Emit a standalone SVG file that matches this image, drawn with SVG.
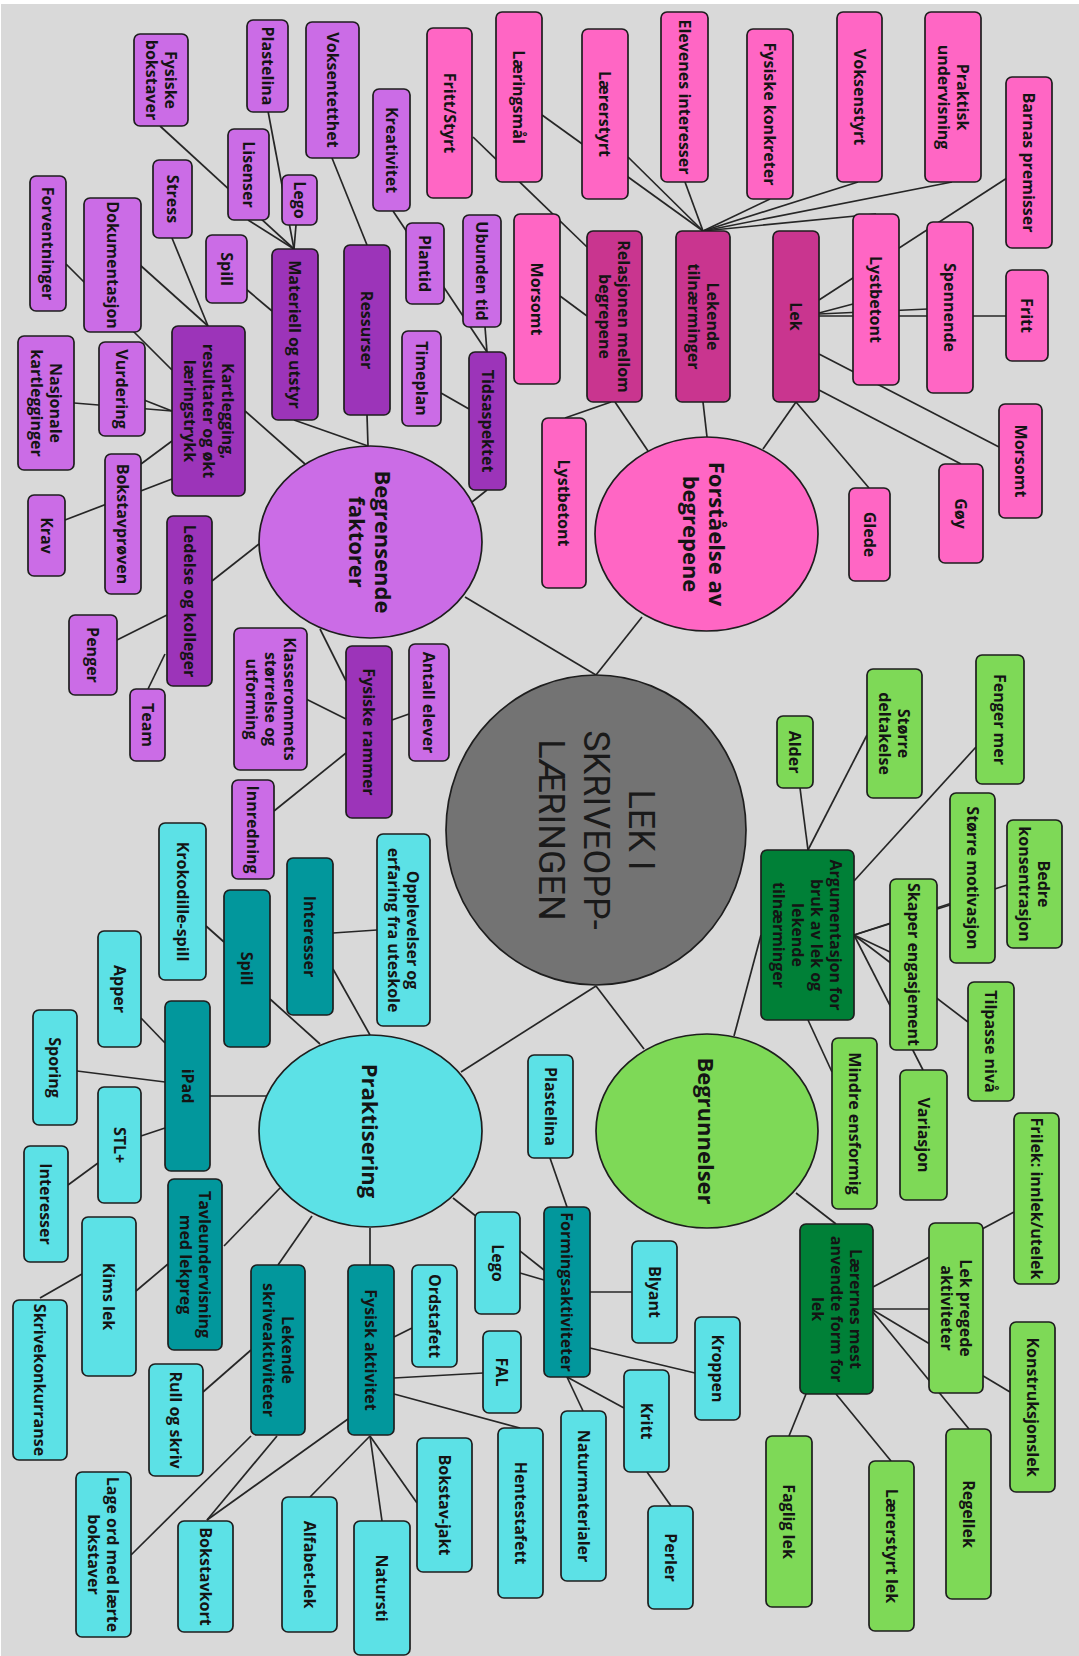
<svg xmlns="http://www.w3.org/2000/svg" width="1079" height="1656" viewBox="0 0 1079 1656">
<style>
.bg{fill:#d9d9d9}
.n rect,.n ellipse{stroke:#1e1e1e;stroke-width:1.7}
.p{fill:#ff66c4}.pd{fill:#c9358f}.v{fill:#cb6ce6}.vd{fill:#9c34b9}
.t{fill:#5ce1e6}.td{fill:#02979c}.g{fill:#7ed957}.gd{fill:#008037}
.n text{font-family:"Open Sans","DejaVu Sans",sans-serif;font-weight:700;font-size:16px;fill:#141414;text-anchor:middle;dominant-baseline:central}
.n text.big{font-size:22px}
#connectors line{stroke:#262626;stroke-width:1.7}
#center text{font-family:Roboto,"Liberation Sans",sans-serif;font-weight:400;font-size:36px;fill:#1a1a1a;text-anchor:middle;dominant-baseline:central}
</style>
<rect x="0" y="0" width="1079" height="1656" fill="#ffffff"/>
<rect class="bg" x="1" y="4" width="1078" height="1652"/>
<g id="connectors">
<line x1="542" y1="115" x2="703" y2="231"/>
<line x1="628" y1="157" x2="703" y2="231"/>
<line x1="685" y1="182" x2="703" y2="231"/>
<line x1="770" y1="199" x2="703" y2="231"/>
<line x1="858" y1="182" x2="703" y2="231"/>
<line x1="952" y1="182" x2="703" y2="231"/>
<line x1="876" y1="214" x2="703" y2="231"/>
<line x1="473" y1="137" x2="587" y2="247"/>
<line x1="560" y1="296" x2="587" y2="316"/>
<line x1="611" y1="402" x2="565" y2="418"/>
<line x1="615" y1="402" x2="648" y2="451"/>
<line x1="703" y1="402" x2="707" y2="437"/>
<line x1="796" y1="402" x2="763" y2="449"/>
<line x1="796" y1="402" x2="869" y2="488"/>
<line x1="1007" y1="178" x2="819" y2="300"/>
<line x1="819" y1="313" x2="853" y2="304"/>
<line x1="819" y1="314" x2="928" y2="309"/>
<line x1="819" y1="316" x2="1007" y2="316"/>
<line x1="819" y1="354" x2="999" y2="447"/>
<line x1="819" y1="390" x2="961" y2="464"/>
<line x1="642" y1="617" x2="596" y2="675"/>
<line x1="160" y1="126" x2="294" y2="249"/>
<line x1="248" y1="220" x2="294" y2="249"/>
<line x1="268" y1="111" x2="294" y2="249"/>
<line x1="296" y1="225" x2="294" y2="249"/>
<line x1="246" y1="289" x2="272" y2="311"/>
<line x1="294" y1="420" x2="368" y2="446"/>
<line x1="332" y1="158" x2="367" y2="245"/>
<line x1="367" y1="415" x2="368" y2="446"/>
<line x1="393" y1="211" x2="487" y2="352"/>
<line x1="485" y1="327" x2="487" y2="352"/>
<line x1="441" y1="393" x2="469" y2="409"/>
<line x1="487" y1="490" x2="472" y2="502"/>
<line x1="66" y1="264" x2="172" y2="370"/>
<line x1="140" y1="265" x2="208" y2="326"/>
<line x1="172" y1="238" x2="208" y2="326"/>
<line x1="74" y1="403" x2="172" y2="411"/>
<line x1="144" y1="400" x2="172" y2="411"/>
<line x1="141" y1="464" x2="172" y2="441"/>
<line x1="65" y1="520" x2="172" y2="479"/>
<line x1="245" y1="411" x2="305" y2="464"/>
<line x1="212" y1="581" x2="259" y2="544"/>
<line x1="117" y1="640" x2="167" y2="615"/>
<line x1="148" y1="689" x2="165" y2="654"/>
<line x1="320" y1="629" x2="346" y2="681"/>
<line x1="306" y1="699" x2="346" y2="719"/>
<line x1="409" y1="714" x2="392" y2="720"/>
<line x1="274" y1="811" x2="346" y2="753"/>
<line x1="465" y1="597" x2="596" y2="675"/>
<line x1="596" y1="986" x2="461" y2="1072"/>
<line x1="333" y1="933" x2="377" y2="930"/>
<line x1="333" y1="969" x2="370" y2="1035"/>
<line x1="270" y1="999" x2="320" y2="1044"/>
<line x1="206" y1="926" x2="224" y2="942"/>
<line x1="141" y1="1018" x2="165" y2="1043"/>
<line x1="77" y1="1071" x2="165" y2="1082"/>
<line x1="210" y1="1096" x2="267" y2="1096"/>
<line x1="141" y1="1136" x2="165" y2="1128"/>
<line x1="68" y1="1185" x2="98" y2="1163"/>
<line x1="224" y1="1246" x2="280" y2="1188"/>
<line x1="136" y1="1291" x2="168" y2="1264"/>
<line x1="40" y1="1298" x2="82" y2="1274"/>
<line x1="278" y1="1265" x2="312" y2="1216"/>
<line x1="203" y1="1392" x2="251" y2="1350"/>
<line x1="251" y1="1436" x2="131" y2="1555"/>
<line x1="277" y1="1436" x2="207" y2="1520"/>
<line x1="370" y1="1265" x2="370" y2="1228"/>
<line x1="412" y1="1328" x2="394" y2="1337"/>
<line x1="483" y1="1373" x2="394" y2="1378"/>
<line x1="394" y1="1394" x2="520" y2="1428"/>
<line x1="348" y1="1419" x2="207" y2="1520"/>
<line x1="370" y1="1436" x2="310" y2="1497"/>
<line x1="370" y1="1436" x2="382" y2="1521"/>
<line x1="370" y1="1436" x2="417" y2="1503"/>
<line x1="453" y1="1198" x2="544" y2="1270"/>
<line x1="520" y1="1273" x2="544" y2="1280"/>
<line x1="550" y1="1158" x2="567" y2="1207"/>
<line x1="590" y1="1292" x2="632" y2="1292"/>
<line x1="590" y1="1348" x2="695" y2="1373"/>
<line x1="567" y1="1377" x2="624" y2="1408"/>
<line x1="567" y1="1377" x2="583" y2="1411"/>
<line x1="647" y1="1472" x2="671" y2="1506"/>
<line x1="596" y1="986" x2="644" y2="1049"/>
<line x1="761" y1="935" x2="734" y2="1036"/>
<line x1="808" y1="850" x2="800" y2="788"/>
<line x1="808" y1="850" x2="867" y2="735"/>
<line x1="854" y1="881" x2="976" y2="747"/>
<line x1="854" y1="935" x2="950" y2="905"/>
<line x1="854" y1="935" x2="1007" y2="885"/>
<line x1="854" y1="935" x2="890" y2="952"/>
<line x1="854" y1="935" x2="968" y2="1022"/>
<line x1="854" y1="935" x2="923" y2="1070"/>
<line x1="808" y1="1020" x2="832" y2="1072"/>
<line x1="796" y1="1193" x2="836" y2="1224"/>
<line x1="873" y1="1287" x2="1014" y2="1212"/>
<line x1="873" y1="1309" x2="929" y2="1309"/>
<line x1="873" y1="1310" x2="1010" y2="1392"/>
<line x1="873" y1="1312" x2="969" y2="1429"/>
<line x1="806" y1="1394" x2="789" y2="1436"/>
<line x1="836" y1="1394" x2="891" y2="1461"/>
</g>

<g id="center" class="n"><ellipse cx="596" cy="830" rx="150" ry="155" fill="#737373"/>
<text transform="translate(596 830) rotate(90)"><tspan x="0" y="-44.6">LEK I</tspan><tspan x="0" y="0">SKRIVEOPP-</tspan><tspan x="0" y="44.6">LÆRINGEN</tspan></text></g>

<g id="forstaelse" class="n"><ellipse class="p" cx="706.5" cy="534" rx="111.5" ry="97"/><text class="big" transform="translate(705 534) rotate(90)"><tspan x="0" y="-13">Forståelse av</tspan><tspan x="0" y="13">begrepene</tspan></text></g>
<g id="begrensende" class="n"><ellipse class="v" cx="370.5" cy="542" rx="111.5" ry="96"/><text class="big" transform="translate(371 542) rotate(90)"><tspan x="0" y="-13">Begrensende</tspan><tspan x="0" y="13">faktorer</tspan></text></g>
<g id="praktisering" class="n"><ellipse class="t" cx="370.5" cy="1131" rx="111.5" ry="96"/><text class="big" transform="translate(370.5 1131) rotate(90)">Praktisering</text></g>
<g id="begrunnelser" class="n"><ellipse class="g" cx="707" cy="1131" rx="111" ry="97"/><text class="big" transform="translate(707 1131) rotate(90)">Begrunnelser</text></g>

<g id="laeringsmal" class="n"><rect class="p" x="496" y="12" width="46" height="170" rx="6"/><text transform="translate(519 97) rotate(90)">Læringsmål</text></g>
<g id="frittstyrt" class="n"><rect class="p" x="427" y="28" width="45" height="170" rx="6"/><text transform="translate(449.5 113) rotate(90)">Fritt/Styrt</text></g>
<g id="laererstyrt" class="n"><rect class="p" x="582" y="29" width="46" height="170" rx="6"/><text transform="translate(605 114) rotate(90)">Lærerstyrt</text></g>
<g id="elevenes" class="n"><rect class="p" x="661" y="12" width="47" height="170" rx="6"/><text transform="translate(684.5 97) rotate(90)">Elevenes interesser</text></g>
<g id="fysiskekonkreter" class="n"><rect class="p" x="747" y="29" width="46" height="170" rx="6"/><text transform="translate(770 114) rotate(90)">Fysiske konkreter</text></g>
<g id="voksenstyrt" class="n"><rect class="p" x="837" y="12" width="45" height="170" rx="6"/><text transform="translate(859.5 97) rotate(90)">Voksenstyrt</text></g>
<g id="praktisk" class="n"><rect class="p" x="925" y="12" width="56" height="170" rx="6"/><text transform="translate(953 97) rotate(90)"><tspan x="0" y="-9.5">Praktisk</tspan><tspan x="0" y="9.5">undervisning</tspan></text></g>
<g id="barnas" class="n"><rect class="p" x="1006" y="77" width="46" height="171" rx="6"/><text transform="translate(1029 162.5) rotate(90)">Barnas premisser</text></g>
<g id="morsomt1" class="n"><rect class="p" x="514" y="214" width="46" height="170" rx="6"/><text transform="translate(537 299) rotate(90)">Morsomt</text></g>
<g id="relasjonen" class="n"><rect class="pd" x="587" y="231" width="55" height="171" rx="6"/><text transform="translate(614.5 316.5) rotate(90)"><tspan x="0" y="-9.5">Relasjonen mellom</tspan><tspan x="0" y="9.5">begrepene</tspan></text></g>
<g id="lekende" class="n"><rect class="pd" x="676" y="231" width="54" height="171" rx="6"/><text transform="translate(703 316.5) rotate(90)"><tspan x="0" y="-9.5">Lekende</tspan><tspan x="0" y="9.5">tilnærminger</tspan></text></g>
<g id="lek" class="n"><rect class="pd" x="773" y="231" width="46" height="171" rx="6"/><text transform="translate(796 316.5) rotate(90)">Lek</text></g>
<g id="lystbetont2" class="n"><rect class="p" x="853" y="214" width="46" height="171" rx="6"/><text transform="translate(876 299.5) rotate(90)">Lystbetont</text></g>
<g id="spennende" class="n"><rect class="p" x="927" y="222" width="46" height="171" rx="6"/><text transform="translate(950 307.5) rotate(90)">Spennende</text></g>
<g id="fritt" class="n"><rect class="p" x="1006" y="270" width="42" height="91" rx="6"/><text transform="translate(1027 315.5) rotate(90)">Fritt</text></g>
<g id="morsomt2" class="n"><rect class="p" x="999" y="404" width="43" height="114" rx="6"/><text transform="translate(1020.5 461) rotate(90)">Morsomt</text></g>
<g id="goy" class="n"><rect class="p" x="939" y="464" width="44" height="99" rx="6"/><text transform="translate(961 513.5) rotate(90)">Gøy</text></g>
<g id="glede" class="n"><rect class="p" x="849" y="488" width="41" height="93" rx="6"/><text transform="translate(869.5 534.5) rotate(90)">Glede</text></g>
<g id="lystbetont1" class="n"><rect class="p" x="542" y="418" width="44" height="170" rx="6"/><text transform="translate(564 503) rotate(90)">Lystbetont</text></g>

<g id="fysiskebokstaver" class="n"><rect class="v" x="134" y="34" width="54" height="92" rx="6"/><text transform="translate(161 80) rotate(90)"><tspan x="0" y="-9.5">Fysiske</tspan><tspan x="0" y="9.5">bokstaver</tspan></text></g>
<g id="plastelina1" class="n"><rect class="v" x="247" y="20" width="41" height="92" rx="6"/><text transform="translate(267.5 66) rotate(90)">Plastelina</text></g>
<g id="voksentetthet" class="n"><rect class="v" x="306" y="22" width="53" height="136" rx="6"/><text transform="translate(332.5 90) rotate(90)">Voksentetthet</text></g>
<g id="kreativitet" class="n"><rect class="v" x="373" y="89" width="37" height="122" rx="6"/><text transform="translate(391.5 150) rotate(90)">Kreativitet</text></g>
<g id="lisenser" class="n"><rect class="v" x="228" y="129" width="41" height="91" rx="6"/><text transform="translate(248.5 174.5) rotate(90)">Lisenser</text></g>
<g id="lego1" class="n"><rect class="v" x="282" y="175" width="35" height="50" rx="6"/><text transform="translate(299.5 200) rotate(90)">Lego</text></g>
<g id="stress" class="n"><rect class="v" x="153" y="160" width="39" height="78" rx="6"/><text transform="translate(172.5 199) rotate(90)">Stress</text></g>
<g id="forventninger" class="n"><rect class="v" x="30" y="176" width="36" height="135" rx="6"/><text transform="translate(48 243.5) rotate(90)">Forventninger</text></g>
<g id="dokumentasjon" class="n"><rect class="v" x="84" y="198" width="57" height="134" rx="6"/><text transform="translate(112.5 265) rotate(90)">Dokumentasjon</text></g>
<g id="spill1" class="n"><rect class="v" x="206" y="235" width="41" height="68" rx="6"/><text transform="translate(226.5 269) rotate(90)">Spill</text></g>
<g id="materiell" class="n"><rect class="vd" x="272" y="249" width="46" height="171" rx="6"/><text transform="translate(295 334.5) rotate(90)">Materiell og utstyr</text></g>
<g id="ressurser" class="n"><rect class="vd" x="344" y="245" width="46" height="170" rx="6"/><text transform="translate(367 330) rotate(90)">Ressurser</text></g>
<g id="plantid" class="n"><rect class="v" x="406" y="223" width="38" height="81" rx="6"/><text transform="translate(425 263.5) rotate(90)">Plantid</text></g>
<g id="ubunden" class="n"><rect class="v" x="463" y="215" width="38" height="112" rx="6"/><text transform="translate(482 271) rotate(90)">Ubunden tid</text></g>
<g id="kartlegging" class="n"><rect class="vd" x="172" y="326" width="73" height="170" rx="6"/><text transform="translate(208.5 411) rotate(90)"><tspan x="0" y="-19">Kartlegging,</tspan><tspan x="0" y="0">resultater og økt</tspan><tspan x="0" y="19">læringstrykk</tspan></text></g>
<g id="vurdering" class="n"><rect class="v" x="99" y="342" width="46" height="94" rx="6"/><text transform="translate(122 389) rotate(90)">Vurdering</text></g>
<g id="nasjonale" class="n"><rect class="v" x="18" y="336" width="56" height="134" rx="6"/><text transform="translate(46 403) rotate(90)"><tspan x="0" y="-9.5">Nasjonale</tspan><tspan x="0" y="9.5">kartlegginger</tspan></text></g>
<g id="timeplan" class="n"><rect class="v" x="402" y="331" width="39" height="95" rx="6"/><text transform="translate(421.5 378.5) rotate(90)">Timeplan</text></g>
<g id="tidsaspektet" class="n"><rect class="vd" x="469" y="352" width="37" height="138" rx="6"/><text transform="translate(487.5 421) rotate(90)">Tidsaspektet</text></g>
<g id="krav" class="n"><rect class="v" x="28" y="495" width="37" height="81" rx="6"/><text transform="translate(46.5 535.5) rotate(90)">Krav</text></g>
<g id="bokstavproven" class="n"><rect class="v" x="105" y="454" width="36" height="140" rx="6"/><text transform="translate(123 524) rotate(90)">Bokstavprøven</text></g>
<g id="ledelse" class="n"><rect class="vd" x="167" y="516" width="45" height="170" rx="6"/><text transform="translate(189.5 601) rotate(90)">Ledelse og kolleger</text></g>
<g id="penger" class="n"><rect class="v" x="69" y="615" width="48" height="80" rx="6"/><text transform="translate(93 655) rotate(90)">Penger</text></g>
<g id="team" class="n"><rect class="v" x="130" y="689" width="35" height="72" rx="6"/><text transform="translate(147.5 725) rotate(90)">Team</text></g>
<g id="klasserommets" class="n"><rect class="v" x="234" y="628" width="73" height="142" rx="6"/><text transform="translate(270.5 699) rotate(90)"><tspan x="0" y="-19">Klasserommets</tspan><tspan x="0" y="0">størrelse og</tspan><tspan x="0" y="19">utforming</tspan></text></g>
<g id="fysiskerammer" class="n"><rect class="vd" x="346" y="646" width="46" height="172" rx="6"/><text transform="translate(369 732) rotate(90)">Fysiske rammer</text></g>
<g id="antall" class="n"><rect class="v" x="409" y="644" width="40" height="117" rx="6"/><text transform="translate(429 702.5) rotate(90)">Antall elever</text></g>
<g id="innredning" class="n"><rect class="v" x="232" y="780" width="42" height="99" rx="6"/><text transform="translate(253 829.5) rotate(90)">Innredning</text></g>

<g id="krokodille" class="n"><rect class="t" x="159" y="823" width="47" height="157" rx="6"/><text transform="translate(182.5 901.5) rotate(90)">Krokodille-spill</text></g>
<g id="spill2" class="n"><rect class="td" x="224" y="890" width="46" height="157" rx="6"/><text transform="translate(247 968.5) rotate(90)">Spill</text></g>
<g id="interesser1" class="n"><rect class="td" x="287" y="858" width="46" height="157" rx="6"/><text transform="translate(310 936.5) rotate(90)">Interesser</text></g>
<g id="opplevelser" class="n"><rect class="t" x="377" y="834" width="53" height="192" rx="6"/><text transform="translate(403.5 930) rotate(90)"><tspan x="0" y="-9.5">Opplevelser og</tspan><tspan x="0" y="9.5">erfaring fra uteskole</tspan></text></g>
<g id="apper" class="n"><rect class="t" x="98" y="931" width="43" height="116" rx="6"/><text transform="translate(119.5 989) rotate(90)">Apper</text></g>
<g id="sporing" class="n"><rect class="t" x="33" y="1010" width="44" height="115" rx="6"/><text transform="translate(55 1067.5) rotate(90)">Sporing</text></g>
<g id="ipad" class="n"><rect class="td" x="165" y="1001" width="45" height="170" rx="6"/><text transform="translate(187.5 1086) rotate(90)">iPad</text></g>
<g id="stl" class="n"><rect class="t" x="98" y="1087" width="43" height="116" rx="6"/><text transform="translate(119.5 1145) rotate(90)">STL+</text></g>
<g id="interesser2" class="n"><rect class="t" x="24" y="1146" width="44" height="116" rx="6"/><text transform="translate(46 1204) rotate(90)">Interesser</text></g>
<g id="tavle" class="n"><rect class="td" x="168" y="1179" width="54" height="171" rx="6"/><text transform="translate(195 1264.5) rotate(90)"><tspan x="0" y="-9.5">Tavleundervisning</tspan><tspan x="0" y="9.5">med lekpreg</tspan></text></g>
<g id="kims" class="n"><rect class="t" x="82" y="1217" width="54" height="159" rx="6"/><text transform="translate(109 1296.5) rotate(90)">Kims lek</text></g>
<g id="skrivekonk" class="n"><rect class="t" x="13" y="1300" width="54" height="160" rx="6"/><text transform="translate(40 1380) rotate(90)">Skrivekonkurranse</text></g>
<g id="lekendeskriv" class="n"><rect class="td" x="251" y="1265" width="54" height="170" rx="6"/><text transform="translate(278 1350) rotate(90)"><tspan x="0" y="-9.5">Lekende</tspan><tspan x="0" y="9.5">skriveaktiviteter</tspan></text></g>
<g id="rull" class="n"><rect class="t" x="149" y="1364" width="54" height="112" rx="6"/><text transform="translate(176 1420) rotate(90)">Rull og skriv</text></g>
<g id="fysiskakt" class="n"><rect class="td" x="348" y="1265" width="46" height="170" rx="6"/><text transform="translate(371 1350) rotate(90)">Fysisk aktivitet</text></g>
<g id="ordstafett" class="n"><rect class="t" x="412" y="1265" width="45" height="102" rx="6"/><text transform="translate(434.5 1316) rotate(90)">Ordstafett</text></g>
<g id="lego2" class="n"><rect class="t" x="475" y="1212" width="45" height="102" rx="6"/><text transform="translate(497.5 1263) rotate(90)">Lego</text></g>
<g id="fal" class="n"><rect class="t" x="483" y="1331" width="38" height="82" rx="6"/><text transform="translate(502 1372) rotate(90)">FAL</text></g>
<g id="hentestafett" class="n"><rect class="t" x="498" y="1428" width="45" height="170" rx="6"/><text transform="translate(520.5 1513) rotate(90)">Hentestafett</text></g>
<g id="bokstavjakt" class="n"><rect class="t" x="417" y="1438" width="55" height="134" rx="6"/><text transform="translate(444.5 1505) rotate(90)">Bokstav-jakt</text></g>
<g id="lageord" class="n"><rect class="t" x="76" y="1472" width="55" height="165" rx="6"/><text transform="translate(103.5 1554.5) rotate(90)"><tspan x="0" y="-9.5">Lage ord med lærte</tspan><tspan x="0" y="9.5">bokstaver</tspan></text></g>
<g id="bokstavkort" class="n"><rect class="t" x="178" y="1521" width="55" height="111" rx="6"/><text transform="translate(205.5 1576.5) rotate(90)">Bokstavkort</text></g>
<g id="alfabet" class="n"><rect class="t" x="282" y="1497" width="55" height="135" rx="6"/><text transform="translate(309.5 1564.5) rotate(90)">Alfabet-lek</text></g>
<g id="natursti" class="n"><rect class="t" x="354" y="1521" width="56" height="134" rx="6"/><text transform="translate(382 1588) rotate(90)">Natursti</text></g>
<g id="plastelina2" class="n"><rect class="t" x="528" y="1055" width="45" height="103" rx="6"/><text transform="translate(550.5 1106.5) rotate(90)">Plastelina</text></g>
<g id="forming" class="n"><rect class="td" x="544" y="1207" width="46" height="170" rx="6"/><text transform="translate(567 1292) rotate(90)">Formingsaktiviteter</text></g>
<g id="blyant" class="n"><rect class="t" x="632" y="1241" width="45" height="102" rx="6"/><text transform="translate(654.5 1292) rotate(90)">Blyant</text></g>
<g id="kroppen" class="n"><rect class="t" x="695" y="1317" width="45" height="103" rx="6"/><text transform="translate(717.5 1368.5) rotate(90)">Kroppen</text></g>
<g id="kritt" class="n"><rect class="t" x="624" y="1370" width="45" height="102" rx="6"/><text transform="translate(646.5 1421) rotate(90)">Kritt</text></g>
<g id="naturmaterialer" class="n"><rect class="t" x="561" y="1411" width="45" height="170" rx="6"/><text transform="translate(583.5 1496) rotate(90)">Naturmaterialer</text></g>
<g id="perler" class="n"><rect class="t" x="648" y="1506" width="45" height="103" rx="6"/><text transform="translate(670.5 1557.5) rotate(90)">Perler</text></g>

<g id="alder" class="n"><rect class="g" x="777" y="716" width="36" height="72" rx="6"/><text transform="translate(795 752) rotate(90)">Alder</text></g>
<g id="storredeltakelse" class="n"><rect class="g" x="867" y="669" width="55" height="129" rx="6"/><text transform="translate(894.5 733.5) rotate(90)"><tspan x="0" y="-9.5">Større</tspan><tspan x="0" y="9.5">deltakelse</tspan></text></g>
<g id="fengermer" class="n"><rect class="g" x="976" y="655" width="48" height="129" rx="6"/><text transform="translate(1000 719.5) rotate(90)">Fenger mer</text></g>
<g id="argumentasjon" class="n"><rect class="gd" x="761" y="850" width="93" height="170" rx="6"/><text transform="translate(807.5 935) rotate(90)"><tspan x="0" y="-28.5">Argumentasjon for</tspan><tspan x="0" y="-9.5">bruk av lek og</tspan><tspan x="0" y="9.5">lekende</tspan><tspan x="0" y="28.5">tilnærminger</tspan></text></g>
<g id="storremotivasjon" class="n"><rect class="g" x="950" y="793" width="45" height="170" rx="6"/><text transform="translate(972.5 878) rotate(90)">Større motivasjon</text></g>
<g id="bedre" class="n"><rect class="g" x="1007" y="820" width="55" height="128" rx="6"/><text transform="translate(1034.5 884) rotate(90)"><tspan x="0" y="-9.5">Bedre</tspan><tspan x="0" y="9.5">konsentrasjon</tspan></text></g>
<g id="skaper" class="n"><rect class="g" x="890" y="879" width="47" height="171" rx="6"/><text transform="translate(913.5 964.5) rotate(90)">Skaper engasjement</text></g>
<g id="tilpasse" class="n"><rect class="g" x="968" y="982" width="46" height="119" rx="6"/><text transform="translate(991 1041.5) rotate(90)">Tilpasse nivå</text></g>
<g id="mindre" class="n"><rect class="g" x="832" y="1038" width="45" height="171" rx="6"/><text transform="translate(854.5 1123.5) rotate(90)">Mindre ensformig</text></g>
<g id="variasjon" class="n"><rect class="g" x="900" y="1070" width="47" height="130" rx="6"/><text transform="translate(923.5 1135) rotate(90)">Variasjon</text></g>
<g id="laerernes" class="n"><rect class="gd" x="800" y="1224" width="73" height="170" rx="6"/><text transform="translate(836.5 1309) rotate(90)"><tspan x="0" y="-19">Lærernes mest</tspan><tspan x="0" y="0">anvendte form for</tspan><tspan x="0" y="19">lek</tspan></text></g>
<g id="lekpregede" class="n"><rect class="g" x="929" y="1223" width="54" height="170" rx="6"/><text transform="translate(956 1308) rotate(90)"><tspan x="0" y="-9.5">Lek pregede</tspan><tspan x="0" y="9.5">aktiviteter</tspan></text></g>
<g id="frilek" class="n"><rect class="g" x="1014" y="1113" width="45" height="171" rx="6"/><text transform="translate(1036.5 1198.5) rotate(90)">Frilek: innlek/utelek</text></g>
<g id="konstruksjonslek" class="n"><rect class="g" x="1010" y="1322" width="45" height="170" rx="6"/><text transform="translate(1032.5 1407) rotate(90)">Konstruksjonslek</text></g>
<g id="regellek" class="n"><rect class="g" x="946" y="1429" width="45" height="170" rx="6"/><text transform="translate(968.5 1514) rotate(90)">Regellek</text></g>
<g id="laererstyrtlek" class="n"><rect class="g" x="869" y="1461" width="45" height="170" rx="6"/><text transform="translate(891.5 1546) rotate(90)">Lærerstyrt lek</text></g>
<g id="fagliglek" class="n"><rect class="g" x="766" y="1436" width="46" height="171" rx="6"/><text transform="translate(789 1521.5) rotate(90)">Faglig lek</text></g>
</svg>
